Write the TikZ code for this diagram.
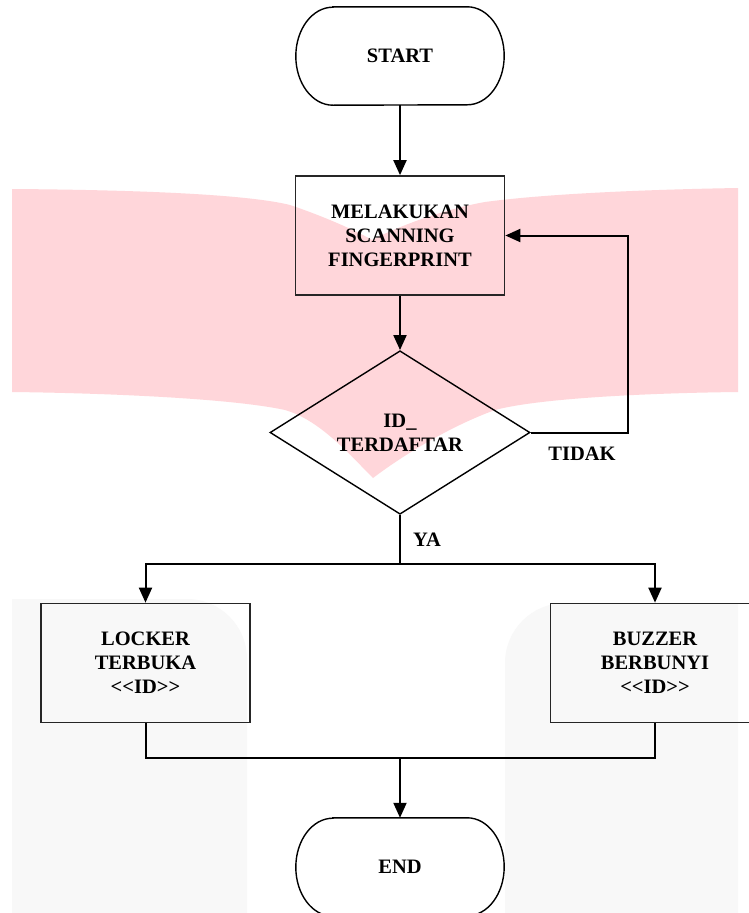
\documentclass[tikz,border=0pt]{standalone}
\usepackage{fontspec}
\setmainfont{Liberation Serif}
\usetikzlibrary{arrows.meta,shapes.geometric}
\definecolor{wmpink}{RGB}{255,214,218}
\definecolor{wmgray}{RGB}{248,248,248}
\tikzset{
  lbl/.style={font=\fontsize{20.5}{24}\selectfont\bfseries, align=center, inner sep=0pt},
  procbox/.style={lbl, rectangle, draw=black!85, line width=1.7pt, minimum width=209pt, minimum height=119pt},
  decbox/.style={lbl, diamond, draw=black, line width=1.4pt, minimum width=260pt, minimum height=147pt},
  termbox/.style={lbl, rectangle, draw=none, minimum width=208pt, minimum height=98pt},
  termline/.style={draw=black, line width=1.4pt},
  conn/.style={draw=black, line width=2pt},
  arr/.style={conn, -{Triangle[width=13pt,length=15pt]}},
}
\begin{document}
\begin{tikzpicture}[x=1pt,y=-1pt]
\useasboundingbox (0,0) rectangle (748,913);
\fill[white] (0,0) rectangle (748,913);
% watermark
\fill[wmpink] (12,189) .. controls (150,190) and (250,195) .. (290,205)
  .. controls (320,215) and (355,230) .. (372,240)
  .. controls (395,228) and (440,210) .. (485,202)
  .. controls (560,192) and (680,189) .. (738,188)
  -- (738,392)
  .. controls (650,393) and (540,398) .. (495,410)
  .. controls (440,430) and (390,465) .. (373,478)
  .. controls (350,455) and (320,420) .. (285,410)
  .. controls (230,398) and (100,393) .. (12,392) -- cycle;
\fill[wmgray] (12,930) -- (12,599) -- (187,599) arc[start angle=90,end angle=0,radius=60pt] -- (247,930) -- cycle;
\fill[wmgray] (738,930) -- (738,603) -- (565,603) arc[start angle=90,end angle=180,radius=60pt] -- (505,930) -- cycle;
% nodes
\node[termbox] (start) at (400,56) {START};
\draw[termline] ([xshift=37pt]start.north west) -- ([xshift=-37pt]start.north east)
  arc[start angle=90,end angle=-90,x radius=37pt,y radius=49pt]
  -- ([xshift=37pt]start.south west)
  arc[start angle=270,end angle=90,x radius=37pt,y radius=49pt] -- cycle;
\node[procbox] (scan) at (400,235.5) {MELAKUKAN\\SCANNING\\FINGERPRINT};
\node[decbox] (dec) at (400,432.5) {ID\_\\TERDAFTAR};
\node[procbox] (locker) at (145.5,663) {LOCKER\\TERBUKA\\{<}{<}ID{>}{>}};
\node[procbox] (buzzer) at (655,663) {BUZZER\\BERBUNYI\\{<}{<}ID{>}{>}};
\node[termbox] (end) at (400,867) {END};
\draw[termline] ([xshift=37pt]end.north west) -- ([xshift=-37pt]end.north east)
  arc[start angle=90,end angle=-90,x radius=37pt,y radius=49pt]
  -- ([xshift=37pt]end.south west)
  arc[start angle=270,end angle=90,x radius=37pt,y radius=49pt] -- cycle;
\node[lbl] (tidak) at (582,454) {TIDAK};
\node[lbl] (ya) at (427,540) {YA};
% coordinates
\coordinate (loopc) at (628,432.5);
\coordinate (split) at (400,564);
\coordinate (merge) at (400,758);
% connectors
\draw[arr] (start.south) -- (scan.north);
\draw[arr] (scan.south) -- (dec.north);
\draw[arr] (dec.east) -- (loopc) |- (scan.east);
\draw[conn] (dec.south) -- (split);
\draw[arr] (split) -| (locker.north);
\draw[arr] (split) -| (buzzer.north);
\draw[conn] (locker.south) |- (merge);
\draw[conn] (buzzer.south) |- (merge);
\draw[arr] (merge) -- (end.north);
\end{tikzpicture}
\end{document}
